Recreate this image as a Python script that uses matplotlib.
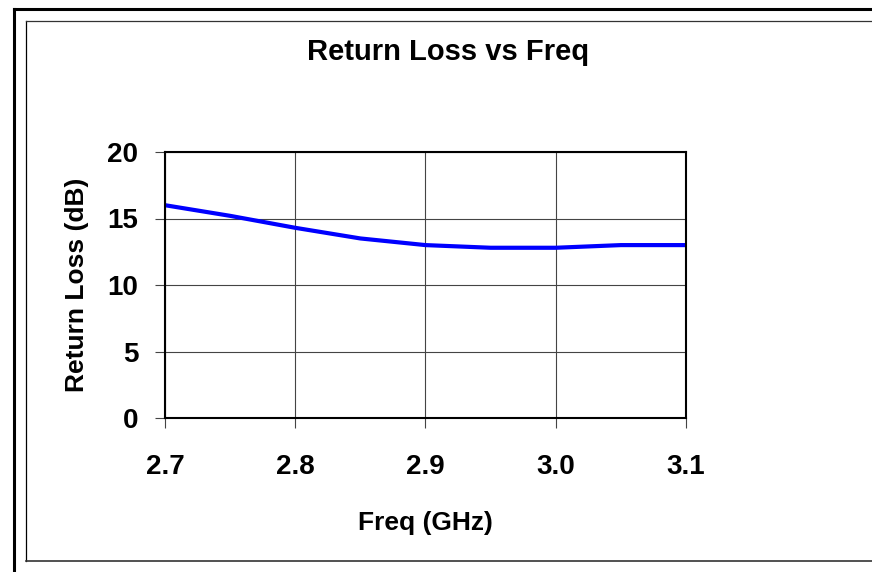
import matplotlib
matplotlib.use("Agg")
import matplotlib.pyplot as plt
from matplotlib.lines import Line2D

freq = [2.70, 2.75, 2.80, 2.85, 2.90, 2.95, 3.00, 3.05, 3.10]
return_loss = [16.0, 15.2, 14.3, 13.5, 13.0, 12.8, 12.8, 13.0, 13.0]
x_ticks = [2.7, 2.8, 2.9, 3.0, 3.1]
x_tick_labels = ["2.7", "2.8", "2.9", "3.0", "3.1"]
y_ticks = [0, 5, 10, 15, 20]

plt.rcParams['font.family'] = ['Liberation Sans', 'DejaVu Sans']
plt.rcParams['font.weight'] = 'bold'

W, H = 872, 572
fig = plt.figure(figsize=(W / 100, H / 100), dpi=100)

def fx(px):
    return px / W

def fy(py):
    return 1 - py / H

# frames
fig.add_artist(Line2D([fx(14), fx(14)], [fy(9), fy(580)], color='black', lw=2.2, transform=fig.transFigure))
fig.add_artist(Line2D([fx(14), fx(880)], [fy(9), fy(9)], color='black', lw=2.2, transform=fig.transFigure))
fig.add_artist(Line2D([fx(26), fx(26)], [fy(21), fy(561)], color='black', lw=0.9, transform=fig.transFigure))
fig.add_artist(Line2D([fx(26), fx(880)], [fy(21), fy(21)], color='#333333', lw=0.9, transform=fig.transFigure))
fig.add_artist(Line2D([fx(26), fx(880)], [fy(561), fy(561)], color='#333333', lw=1.2, transform=fig.transFigure))

left, right, top, bottom = 165, 686, 152, 418
ax = fig.add_axes([fx(left), fy(bottom), fx(right - left), (bottom - top) / H])

ax.plot(freq, return_loss, color='#0000ff', lw=3.0, solid_capstyle='butt')
ax.set_xlim(2.7, 3.1)
ax.set_ylim(0, 20)
ax.set_xticks(x_ticks)
ax.set_xticklabels(x_tick_labels)
ax.set_yticks(y_ticks)
ax.grid(True, color='#444444', lw=0.8)
ax.set_axisbelow(True)
for s in ax.spines.values():
    s.set_linewidth(1.5)
    s.set_color('black')
ax.tick_params(axis='both', direction='out', length=7.2, width=0.8, color='#444444', labelsize=20)
ax.tick_params(axis='x', pad=19)
ax.tick_params(axis='y', pad=12)
for lab in ax.get_xticklabels() + ax.get_yticklabels():
    lab.set_fontweight('bold')

ax.set_xlabel('Freq (GHz)', fontsize=19, fontweight='bold', labelpad=22)
ax.set_ylabel('Return Loss (dB)', fontsize=19, fontweight='bold', labelpad=13)
fig.text(fx(448), fy(52), 'Return Loss vs Freq', fontsize=21, fontweight='bold', ha='center', va='center')

fig.savefig('out.png', dpi=100)
